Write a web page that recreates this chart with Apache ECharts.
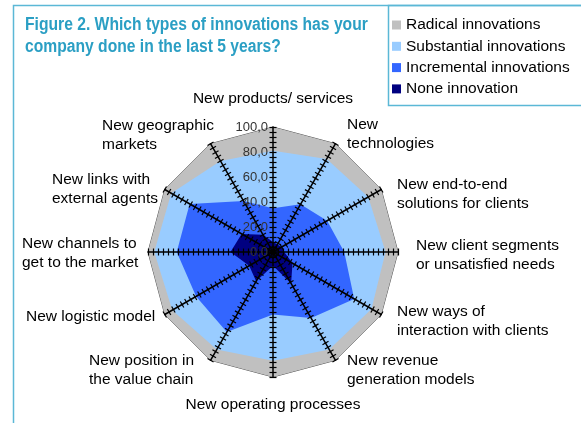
<!DOCTYPE html>
<html>
<head>
<meta charset="utf-8">
<script src="https://cdn.jsdelivr.net/npm/echarts@6/dist/echarts.min.js"></script>
<style>
    html, body {margin:0; padding:0; background:#fff;}
    #chart {width:581px; height:423px;}
</style>
</head>
<body>
<div id="chart"></div>
<script>
// indicators, clockwise from the top
var indicatorNames = [
    'New products/ services',
    'New\ntechnologies',
    'New end-to-end\nsolutions for clients',
    'New client segments\nor unsatisfied needs',
    'New ways of\ninteraction with clients',
    'New revenue\ngeneration models',
    'New operating processes',
    'New position in\nthe value chain',
    'New logistic model',
    'New channels to\nget to the market',
    'New links with\nexternal agents',
    'New geographic\nmarkets'
];
var seriesNames = ['Radical innovations', 'Substantial innovations', 'Incremental innovations', 'None innovation'];
var radical     = [100, 100, 100, 100, 100, 100, 100, 100, 100, 100, 100, 100];
var substantial = [81, 86, 88, 90, 91, 90, 87, 90, 93, 95, 94, 84];
var incremental = [35, 44, 50, 57, 75, 61, 50, 74, 71, 77, 77, 47];
var noneInno    = [8, 7, 8, 9, 18, 29, 11, 27, 22, 34, 29, 16];
var axisMin = 0, axisMax = 100, tickStep = 4, labelStep = 20;

var colors = ['#C0C0C0', '#99CCFF', '#3366FF', '#000080'];
var frameColor = '#5BB8D6';

// where the excel file put the axis names (left edge or centre, middle of block)
var namePos = [
    [273, 99, 'center'], [347, 134, 'left'], [397, 194, 'left'], [416, 255, 'left'],
    [397, 321, 'left'], [347, 370, 'left'], [273, 405, 'center'], [89, 370, 'left'],
    [26, 317, 'left'], [22, 253, 'left'], [52, 189, 'left'], [102, 135, 'left']
];

// echarts lays radar axes out counter clockwise, so flip the order after the first
function ccw(arr){
    var out = [arr[0]];
    for (var i = arr.length - 1; i > 0; i--) out.push(arr[i]);
    return out;
}

function labelFmt(v){
    if (Math.round(v) % labelStep !== 0) return '';
    return Number(v).toFixed(1).replace('.', ',');
}

var indicators = ccw(indicatorNames).map(function(n, i){
    var ind = {name: n, min: axisMin, max: axisMax};
    if (i === 0) ind.axisLabel = {show: true, formatter: labelFmt};
    return ind;
});
var plainIndicators = ccw(indicatorNames).map(function(n){
    return {name: n, min: axisMin, max: axisMax};
});

var chart = echarts.init(document.getElementById('chart'), null, {renderer: 'canvas'});
var dataSets = [radical, substantial, incremental, noneInno];

var graphics = [
    {type: 'rect', shape: {x: 13.5, y: 5.5, width: 700, height: 600},
        style: {fill: 'none', stroke: frameColor, lineWidth: 1.5}},
    {type: 'rect', shape: {x: 388.5, y: 5.5, width: 300, height: 100},
        style: {fill: 'none', stroke: frameColor, lineWidth: 1.5}},
    {
        type: 'text', x: 25, y: 14, scaleX: 0.87, originX: 0, originY: 0,
        style: {
            text: 'Figure 2. Which types of innovations has your\ncompany done in the last 5 years?',
            x: 0, y: 0,
            fill: '#2B9FC4',
            font: 'bold 18px "Liberation Sans", Arial, sans-serif',
            lineHeight: 22,
            verticalAlign: 'top'
        }
    }
];
// axis names
indicatorNames.forEach(function(n, i){
    graphics.push({
        type: 'text', z: 10,
        style: {
            text: n, x: namePos[i][0], y: namePos[i][1],
            align: namePos[i][2], verticalAlign: 'middle',
            fill: '#000', font: '15.5px "Liberation Sans", Arial, sans-serif', lineHeight: 18.5
        }
    });
});

var option = {
    animation: false,
    legend: {
        orient: 'vertical',
        left: 392,
        top: 17,
        padding: 0,
        icon: 'rect',
        itemWidth: 9,
        itemHeight: 9,
        itemGap: 5.3,
        textStyle: {fontFamily: 'Liberation Sans', fontSize: 15.5, lineHeight: 16, color: '#000'},
        data: seriesNames
    },
    graphic: graphics,
    radar: [
        {
            center: [273, 252],
            radius: 125,
            splitNumber: (axisMax - axisMin) / tickStep,
            z: 3,
            indicator: indicators,
            axisName: {show: false},
            axisLine: {lineStyle: {color: '#000', width: 1.5}},
            axisTick: {show: true, length: 3.5, lineStyle: {color: '#000', width: 1.2}},
            axisLabel: {show: false, margin: 5, fontFamily: 'Liberation Sans', fontSize: 13, color: '#333'},
            splitLine: {show: false},
            splitArea: {show: false}
        },
        {
            // second copy, negative length puts the other half of the cross ticks
            center: [273, 252],
            radius: 125,
            splitNumber: (axisMax - axisMin) / tickStep,
            z: 3,
            indicator: plainIndicators,
            axisName: {show: false},
            axisLine: {show: false},
            axisTick: {show: true, length: -3.5, lineStyle: {color: '#000', width: 1.2}},
            axisLabel: {show: false},
            splitLine: {show: false},
            splitArea: {show: false}
        }
    ],
    series: seriesNames.map(function(name, i){
        return {
            name: name,
            type: 'radar',
            radarIndex: 0,
            symbol: 'none',
            z: 2 + i * 0.01,
            itemStyle: {color: colors[i]},
            lineStyle: i === 0 ? {color: '#555', width: 1} : {width: 0},
            areaStyle: {color: colors[i], opacity: 1},
            data: [{name: name, value: ccw(dataSets[i])}]
        };
    })
};
chart.setOption(option);
</script>
</body>
</html>
